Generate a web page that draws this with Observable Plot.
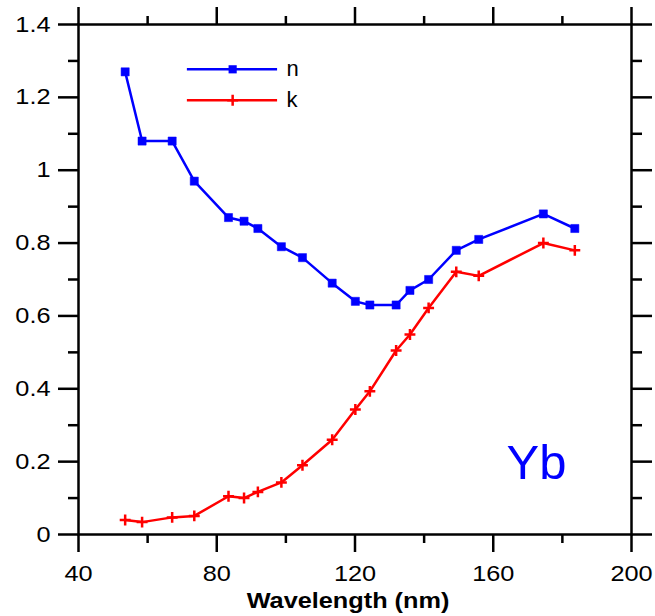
<!DOCTYPE html>
<html>
<head>
<meta charset="utf-8">
<script src="https://cdn.jsdelivr.net/npm/d3@7"></script>
<script src="https://cdn.jsdelivr.net/npm/@observablehq/plot@0.6"></script>
<style>
  html, body { margin: 0; padding: 0; background: #fff; }
</style>
</head>
<body>
<div id="chart"></div>
<script>
// ---- data ----
const wavelength = [53.5, 58.4, 67.1, 73.5, 83.4, 87.9, 91.9, 98.7, 104.8, 113.4, 120.1, 124.3, 131.9, 135.9, 141.3, 149.3, 155.8, 174.5, 183.6];
const nValues = [1.27, 1.08, 1.08, 0.97, 0.87, 0.86, 0.84, 0.79, 0.76, 0.69, 0.64, 0.63, 0.63, 0.67, 0.70, 0.78, 0.81, 0.88, 0.84];
const kValues = [0.04, 0.034, 0.047, 0.051, 0.105, 0.10, 0.117, 0.143, 0.19, 0.26, 0.343, 0.393, 0.505, 0.549, 0.622, 0.721, 0.71, 0.80, 0.78];
const seriesNames = ["n", "k"];
const xMajorTicks = [40, 80, 120, 160, 200];
const xMinorTicks = [60, 100, 140, 180];
const yMajorTicks = [0, 0.2, 0.4, 0.6, 0.8, 1.0, 1.2, 1.4];
const yMinorTicks = [0.1, 0.3, 0.5, 0.7, 0.9, 1.1, 1.3];
const xLabel = "Wavelength (nm)";
const annotation = "Yb";

// ---- tables ----
const nData = wavelength.map((w, i) => ({w, v: nValues[i]}));
const kData = wavelength.map((w, i) => ({w, v: kValues[i]}));

// legend layout (data units)
const legendLine = [71.5, 97.6];
const legendMarkX = 84.6;
const legendTextX = 100.2;
const legendRowY = [1.277, 1.192];
const legend = seriesNames.map((s, i) => ({s, y: legendRowY[i]}));

const blue = "#0000ff", red = "#ff0000";
const axisW = 2.5;
const fmt = d => String(+d.toFixed(1));
const blank = () => "";

const chart = Plot.plot({
  width: 655,
  height: 616,
  marginLeft: 78,
  marginRight: 24,
  marginTop: 24,
  marginBottom: 82,
  style: {fontFamily: "'Liberation Sans', Arial, sans-serif", fontSize: "22px", color: "#000", background: "#fff"},
  x: {domain: [40, 200]},
  y: {domain: [0, 1.4]},
  marks: [
    // bottom
    Plot.axisX({anchor: "bottom", ticks: xMajorTicks, tickSize: 18, tickPadding: 13, strokeWidth: axisW, tickFormat: d => d, label: null, fontSize: 22}),
    Plot.axisX({anchor: "bottom", ticks: xMinorTicks, tickSize: 9, strokeWidth: axisW, tickFormat: blank, label: null}),
    // top
    Plot.axisX({anchor: "top", ticks: xMajorTicks, tickSize: 18, strokeWidth: axisW, tickFormat: blank, label: null}),
    Plot.axisX({anchor: "top", ticks: xMinorTicks, tickSize: 9, strokeWidth: axisW, tickFormat: blank, label: null}),
    // left
    Plot.axisY({anchor: "left", ticks: yMajorTicks, tickSize: 20, tickPadding: 8, strokeWidth: axisW, tickFormat: fmt, label: null, fontSize: 22}),
    Plot.axisY({anchor: "left", ticks: yMinorTicks, tickSize: 10, strokeWidth: axisW, tickFormat: blank, label: null}),
    // right
    Plot.axisY({anchor: "right", ticks: yMajorTicks, tickSize: 20, strokeWidth: axisW, tickFormat: blank, label: null}),
    Plot.axisY({anchor: "right", ticks: yMinorTicks, tickSize: 10, strokeWidth: axisW, tickFormat: blank, label: null}),
    Plot.frame({stroke: "#000", strokeWidth: axisW}),

    // series
    Plot.line(nData, {x: "w", y: "v", stroke: blue, strokeWidth: 2.5}),
    Plot.dot(nData, {x: "w", y: "v", symbol: "square", r: 4.6, fill: blue, stroke: blue, strokeWidth: 0.5}),
    Plot.line(kData, {x: "w", y: "v", stroke: red, strokeWidth: 2.5}),
    Plot.dot(kData, {x: "w", y: "v", symbol: "plus", r: 3.6, stroke: red, strokeWidth: 2.5}),

    // legend
    Plot.ruleY(legend, {y: "y", x1: legendLine[0], x2: legendLine[1], stroke: d => d.s === "n" ? blue : red, strokeWidth: 2.5}),
    Plot.dot(legend.filter(d => d.s === "n"), {x: legendMarkX, y: "y", symbol: "square", r: 4.6, fill: blue}),
    Plot.dot(legend.filter(d => d.s === "k"), {x: legendMarkX, y: "y", symbol: "plus", r: 3.6, stroke: red, strokeWidth: 2.5}),
    Plot.text(legend, {x: legendTextX, y: "y", text: "s", textAnchor: "start", lineAnchor: "middle", fontSize: 22, fill: "#000"}),

    // annotation
    Plot.text([annotation], {frameAnchor: "bottom-right", text: d => d, textAnchor: "end", lineAnchor: "bottom", dx: -65, dy: -56, fontSize: 49, fill: blue}),

    // x label
    Plot.text([xLabel], {frameAnchor: "bottom", text: d => d, textAnchor: "middle", lineAnchor: "bottom", dx: -7, dy: 73, fontSize: 22, fontWeight: "bold", fill: "#000"})
  ]
});

document.getElementById("chart").appendChild(chart);

// The reference's lettering is slightly wider than Liberation Sans: stretch horizontally
// about the text's anchor point, keeping Plot's own positioning transform.
const SX = 1.15;
chart.querySelectorAll("text").forEach(t => {
  const s = t.textContent;
  if (!s) return;
  const isTick = /^[0-9.]+$/.test(s);
  const isTitle = s === xLabel;
  if (!isTick && !isTitle) return;
  const b = t.getBBox();
  const anchor = t.getAttribute("text-anchor") || getComputedStyle(t).textAnchor ||
    (t.parentNode && t.parentNode.getAttribute("text-anchor")) || "middle";
  let ox = b.x + b.width / 2;
  if (anchor === "end") ox = b.x + b.width;
  else if (anchor === "start") ox = b.x;
  const prev = t.getAttribute("transform") || "";
  t.setAttribute("transform", `${prev} translate(${ox} 0) scale(${SX} 1) translate(${-ox} 0)`);
});
</script>
</body>
</html>
